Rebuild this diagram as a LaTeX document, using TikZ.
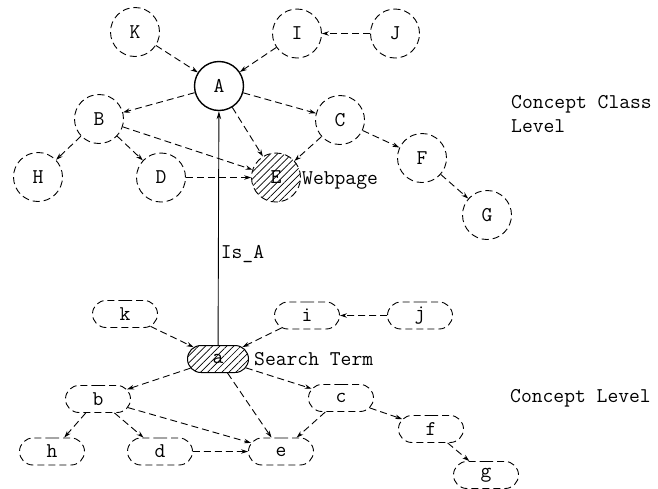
\documentclass[tikz,border=0pt]{standalone}
\usetikzlibrary{arrows.meta,shapes.misc,patterns.meta}

\tikzset{
  every node/.style={font=\ttfamily\fontsize{21}{24}\selectfont, inner sep=0pt},
  dashline/.style={dash pattern=on 7pt off 4pt, line width=0.9pt},
  clsnode/.style={circle, draw, dashline, minimum size=49pt},
  rootnode/.style={circle, draw, line width=1.4pt, minimum size=49pt},
  hatch/.style={pattern={Lines[angle=45, distance=5pt, line width=0.7pt]}},
  termnode/.style={rounded rectangle, draw, dashline, minimum width=65pt, minimum height=27pt},
  link/.style={draw, dashline, -{Stealth[length=7pt, width=4.5pt]}},
  isa/.style={draw, line width=0.9pt, -{Stealth[length=8pt, width=4.5pt]}},
  caption/.style={anchor=west, align=left}
}

\begin{document}
\begin{tikzpicture}[x=1pt, y=-1pt]
  \useasboundingbox (0,0) rectangle (658,488);

  % concept class level
  \node[clsnode]  (K) at (135,32)  {K};
  \node[clsnode]  (I) at (297,33.5)  {I};
  \node[clsnode]  (J) at (395,33.5)  {J};
  \node[rootnode] (A) at (219,86)  {A};
  \node[clsnode]  (B) at (99,119)  {B};
  \node[clsnode]  (C) at (340,120) {C};
  \node[clsnode]  (H) at (38,177)  {H};
  \node[clsnode]  (D) at (161,177.5) {D};
  \node[clsnode, hatch] (E) at (276,177.5) {E};
  \node[clsnode]  (F) at (422,158) {F};
  \node[clsnode]  (G) at (487,215) {G};

  \node[caption] (webpage) at (302,180) {Webpage};
  \node[caption] (cclevel) at (511,114) {Concept Class\\Level};

  \draw[link] (K) -- (A);
  \draw[link] (I) -- (A);
  \draw[link] (J) -- (I);
  \draw[link] (A) -- (B);
  \draw[link] (A) -- (C);
  \draw[link] (A) -- (E);
  \draw[link] (B) -- (H);
  \draw[link] (B) -- (D);
  \draw[link] (B) -- (E);
  \draw[link] (C) -- (E);
  \draw[link] (C) -- (F);
  \draw[link] (D) -- (E);
  \draw[link] (F) -- (G);

  % concept level
  \node[termnode] (k) at (125,314) {k};
  \node[termnode] (i) at (307,315.5) {i};
  \node[termnode] (j) at (420,315.5) {j};
  \node[termnode, solid, line width=1pt, minimum width=61pt, hatch] (a) at (218,359) {a};
  \node[termnode] (b) at (98,399)  {b};
  \node[termnode] (c) at (341,398) {c};
  \node[termnode] (h) at (52,451.5)  {h};
  \node[termnode] (d) at (160,451.5) {d};
  \node[termnode] (e) at (281,451.5) {e};
  \node[termnode] (f) at (431,429) {f};
  \node[termnode] (g) at (486,475) {g};

  \node[caption] (search) at (254,359) {Search Term};
  \node[caption] (clevel) at (510,398) {Concept Level};

  \draw[link] (k) -- (a);
  \draw[link] (i) -- (a);
  \draw[link] (j) -- (i);
  \draw[link] (a) -- (b);
  \draw[link] (a) -- (c);
  \draw[link] (a) -- (e);
  \draw[link] (b) -- (h);
  \draw[link] (b) -- (d);
  \draw[link] (b) -- (e);
  \draw[link] (c) -- (e);
  \draw[link] (c) -- (f);
  \draw[link] (d) -- (e);
  \draw[link] (f) -- (g);

  % is-a relation between the levels
  \draw[isa] (a) -- (A) node[pos=0.39, right=2pt] {Is\_A};
\end{tikzpicture}
\end{document}
